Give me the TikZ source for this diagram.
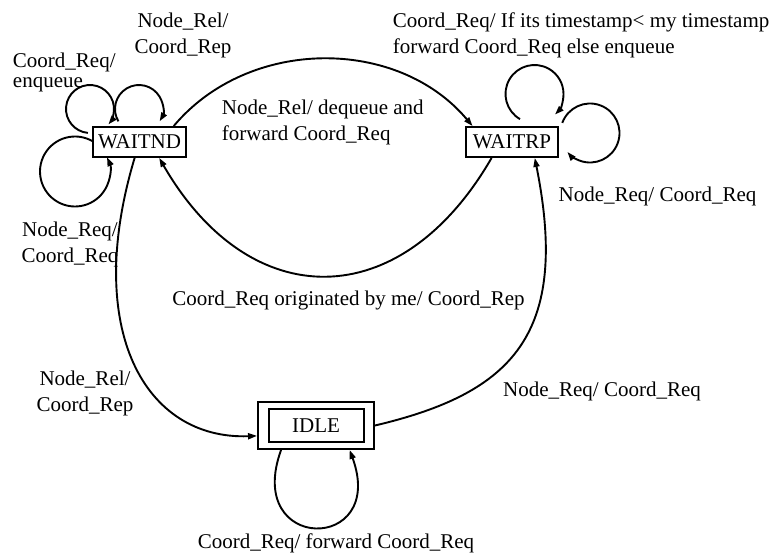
\documentclass[tikz,border=0pt]{standalone}
\usepackage{fontspec}
\setmainfont{Liberation Serif}
\usetikzlibrary{arrows.meta}

\begin{document}
\begin{tikzpicture}[x=1pt, y=1pt, line width=1.9pt,
        >={Triangle[length=9pt,width=6pt]},
        stbox/.style={draw, inner sep=0pt, minimum width=93pt, minimum height=30pt,
            font=\fontsize{21}{26}\selectfont},
        lbl/.style={inner sep=0pt, align=center, font=\fontsize{21}{26}\selectfont}]
            \useasboundingbox (0,0) rectangle (778,555);

            \node (waitnd) at (139.5,413) [stbox] {WAITND};
            \node (waitrp) at (512,413) [stbox, minimum width=92pt] {WAITRP};
            \node (idle) at (316,129.5) [stbox, minimum width=116pt, minimum height=47pt] {IDLE};
            \draw ([shift={(12,8)}]idle.south west) rectangle ([shift={(-11,-8)}]idle.north east);

            \draw[->] (waitnd.25) to[out=50, in=130] (waitrp.158);
            \draw[->] (waitrp.218) to[out=240, in=300, looseness=1.4] (waitnd.321);
            \draw[->] (waitnd.253) .. controls (83,225) and (145,115) .. (idle.190);
            \draw[->] (idle.east) .. controls (513,162) and (570,221) .. (waitrp.325);

            \foreach \n/\dx/\dy/\r/\a/\b in {waitnd/-49.5/33/24/-95/-400, waitnd/-0.5/33/24/211/-31,
                    waitnd/-64.5/-29.5/35/60/384, waitrp/22.5/48/29/240/-45, waitrp/78/9/29.5/160/-140} {
                \draw[->] ([shift={(\dx,\dy)}]\n.center) ++(\a:\r) arc[start angle=\a, end angle=\b, radius=\r];
            }
            \draw[->] (idle.215) to[out=250, in=290, distance=110pt] (idle.-36);

            \node (lbl1) at (183,519.5) [lbl] {Node\_Rel/\\Coord\_Rep};
            \node (lbl2) at (12,482.5) [lbl, anchor=west, align=left] {Coord\_Req/\\[-6pt]enqueue};
            \node (lbl3) at (221,433) [lbl, anchor=west, align=left] {Node\_Rel/ dequeue and\\forward Coord\_Req};
            \node (lbl4) at (392,519.5) [lbl, anchor=west, align=left] {Coord\_Req/ If its timestamp< my timestamp\\forward Coord\_Req else enqueue};
            \node (lbl5) at (657.5,359) [lbl] {Node\_Req/ Coord\_Req};
            \node (lbl6) at (70,310.5) [lbl] {Node\_Req/\\Coord\_Req};
            \node (lbl7) at (348.5,255) [lbl] {Coord\_Req originated by me/ Coord\_Rep};
            \node (lbl8) at (85,162) [lbl] {Node\_Rel/\\Coord\_Rep};
            \node (lbl9) at (602,164) [lbl] {Node\_Req/ Coord\_Req};
            \node (lbl10) at (336,12) [lbl] {Coord\_Req/ forward Coord\_Req};
        \end{tikzpicture}
\end{document}
